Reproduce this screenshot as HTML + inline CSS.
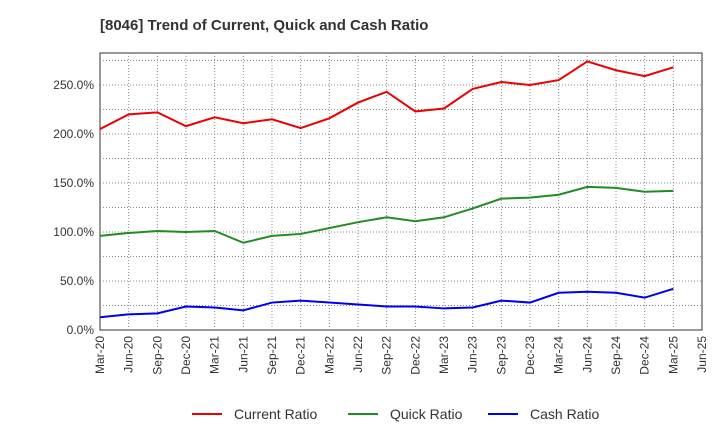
<!DOCTYPE html>
<html><head><meta charset="utf-8"><style>body{margin:0;background:#fff}svg{font-family:"Liberation Sans",sans-serif}</style></head>
<body>
<svg id="c" width="720" height="440">
<text x="100" y="30" font-size="15" font-weight="bold" fill="#333">[8046]  Trend of Current, Quick and Cash Ratio</text>
</svg>
<script>
const xLabels=["Mar-20","Jun-20","Sep-20","Dec-20","Mar-21","Jun-21","Sep-21","Dec-21","Mar-22","Jun-22","Sep-22","Dec-22","Mar-23","Jun-23","Sep-23","Dec-23","Mar-24","Jun-24","Sep-24","Dec-24","Mar-25","Jun-25"];
const currentRatio=[205,220,222,208,217,211,215,206,216,232,243,223,226,246,253,250,255,274,265,259,268];
const quickRatio=[96,99,101,100,101,89,96,98,104,110,115,111,115,124,134,135,138,146,145,141,142];
const cashRatio=[13,16,17,24,23,20,28,30,28,26,24,24,22,23,30,28,38,39,38,33,42];
const yTicks=[0,50,100,150,200,250];
const L=100,R=702,T=53,B=330,ymax=282.6;
const sx=i=>L+i*(R-L)/21, sy=v=>B-v*(B-T)/ymax;
const svg=document.getElementById('c'),NS='http://www.w3.org/2000/svg';
function mk(t,a,p){const e=document.createElementNS(NS,t);for(const k in a)e.setAttribute(k,a[k]);(p||svg).appendChild(e);return e;}
const bg=mk('rect',{x:L,y:T,width:R-L,height:B-T,fill:'#fff',stroke:'#333'});


for(let i=1;i<21;i++){const g=mk('line',{x1:sx(i),x2:sx(i),y1:T,y2:B,stroke:'#888','stroke-dasharray':'1,2'});

}
for(let v=25;v<ymax;v+=25){const g=mk('line',{x1:L,x2:R,y1:sy(v),y2:sy(v),stroke:'#888','stroke-dasharray':'1,2'});

}
yTicks.forEach(v=>{const t=mk('text',{x:L-6,y:sy(v)+4,'text-anchor':'end','font-size':12,fill:'#333'});t.textContent=v.toFixed(1)+'%';

});
xLabels.forEach((s,i)=>{const x=sx(i);const t=mk('text',{x:x+4,y:B+6,'text-anchor':'end','font-size':12,fill:'#333',transform:`rotate(-90 ${x+4} ${B+6})`});t.textContent=s;

});
[[currentRatio,'#e00','current-ratio-line'],[quickRatio,'#228b22','quick-ratio-line'],[cashRatio,'#00e','cash-ratio-line']].forEach(([d,c,n])=>{
const p=mk('polyline',{points:d.map((v,i)=>sx(i)+','+sy(v)).join(' '),fill:'none',stroke:c,'stroke-width':2});

});
[['Current Ratio','#e00',192],['Quick Ratio','#228b22',348],['Cash Ratio','#00e',488]].forEach(([s,c,x])=>{
const g=mk('g',{});


mk('line',{x1:x,x2:x+30,y1:414,y2:414,stroke:c,'stroke-width':2},g);
const t=mk('text',{x:x+42,y:419,'font-size':14,fill:'#333'},g);t.textContent=s;});
</script>
</body></html>
